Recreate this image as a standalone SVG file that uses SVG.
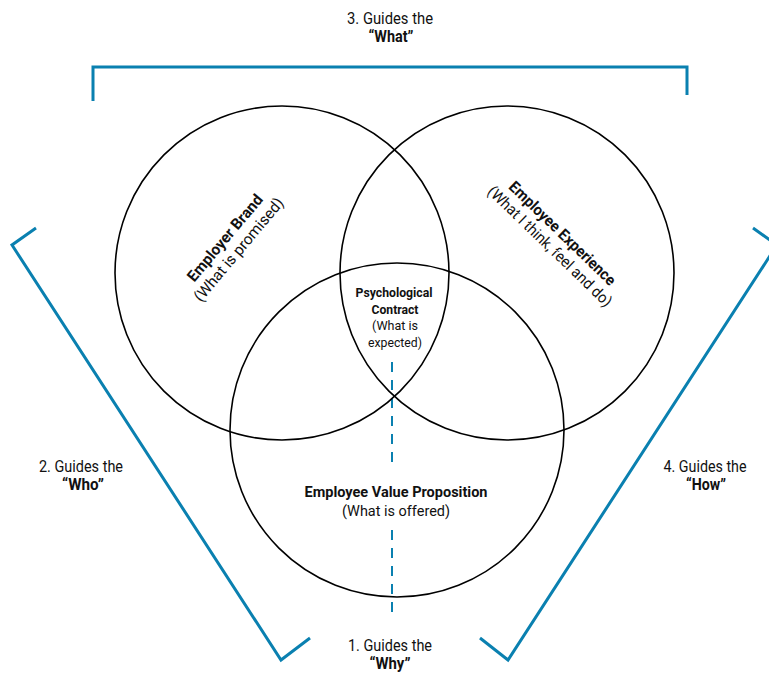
<svg xmlns="http://www.w3.org/2000/svg" width="769" height="673" viewBox="0 0 769 673">
<style>
.c{fill:none;stroke:#000;stroke-width:1.6}
.b{fill:none;stroke:#0a80b0;stroke-width:3;stroke-linecap:butt;stroke-linejoin:miter}
.d{fill:none;stroke:#0a80b0;stroke-width:2;stroke-dasharray:10 8}
text{font-family:Roboto,"Liberation Sans",sans-serif;fill:#111;text-anchor:middle}
.g{font-size:16px}
.gb{font-size:16px;font-weight:bold}
.m{font-size:15.5px;font-weight:bold}
.s{font-size:15.5px}
.p{font-size:13px;font-weight:bold}
.ps{font-size:13px}
</style>
<rect width="769" height="673" fill="#fff"/>
<g id="connectors">
<polyline class="b" points="93,101 93,67 687,67 687,95"/>
<polyline class="b" points="36,228 12,245 281,660 310,638"/>
<polyline class="b" points="753,228 777,245 508,660 480,638"/>
<line class="d" x1="392" y1="362" x2="392" y2="470"/>
<line class="d" x1="392" y1="530" x2="392" y2="612"/>
</g>
<g id="employer-brand">
<circle class="c" cx="282" cy="273" r="167"/>
<g transform="translate(232,244) rotate(-50)">
<text class="m" x="0" y="-4" textLength="108" lengthAdjust="spacingAndGlyphs">Employer Brand</text>
<text class="s" x="0" y="14" textLength="130" lengthAdjust="spacingAndGlyphs">(What is promised)</text>
</g>
</g>
<g id="employee-experience">
<circle class="c" cx="507" cy="273" r="167"/>
<g transform="translate(556,240) rotate(44)">
<text class="m" x="0" y="-4" textLength="142" lengthAdjust="spacingAndGlyphs">Employee Experience</text>
<text class="s" x="0" y="14" textLength="166" lengthAdjust="spacingAndGlyphs">(What I think, feel and do)</text>
</g>
</g>
<g id="evp">
<circle class="c" cx="397" cy="430" r="167"/>
<text class="m" x="396" y="497" textLength="183" lengthAdjust="spacingAndGlyphs">Employee Value Proposition</text>
<text class="s" x="396" y="516" textLength="108" lengthAdjust="spacingAndGlyphs">(What is offered)</text>
</g>
<g id="psychological-contract">
<text class="p" x="394" y="297" textLength="77" lengthAdjust="spacingAndGlyphs">Psychological</text>
<text class="p" x="395" y="314" textLength="47" lengthAdjust="spacingAndGlyphs">Contract</text>
<text class="ps" x="395" y="330" textLength="46" lengthAdjust="spacingAndGlyphs">(What is</text>
<text class="ps" x="395" y="347" textLength="54" lengthAdjust="spacingAndGlyphs">expected)</text>
</g>
<g id="label-what">
<text class="g" x="390" y="24" textLength="86" lengthAdjust="spacingAndGlyphs">3. Guides the</text>
<text class="gb" x="391" y="42" textLength="45" lengthAdjust="spacingAndGlyphs">“What”</text>
</g>
<g id="label-who">
<text class="g" x="81" y="472" textLength="84" lengthAdjust="spacingAndGlyphs">2. Guides the</text>
<text class="gb" x="83" y="490" textLength="42" lengthAdjust="spacingAndGlyphs">“Who”</text>
</g>
<g id="label-how">
<text class="g" x="705" y="472" textLength="83" lengthAdjust="spacingAndGlyphs">4. Guides the</text>
<text class="gb" x="706" y="490" textLength="40" lengthAdjust="spacingAndGlyphs">“How”</text>
</g>
<g id="label-why">
<text class="g" x="390" y="651" textLength="84" lengthAdjust="spacingAndGlyphs">1. Guides the</text>
<text class="gb" x="390" y="669" textLength="41" lengthAdjust="spacingAndGlyphs">“Why”</text>
</g>
</svg>
